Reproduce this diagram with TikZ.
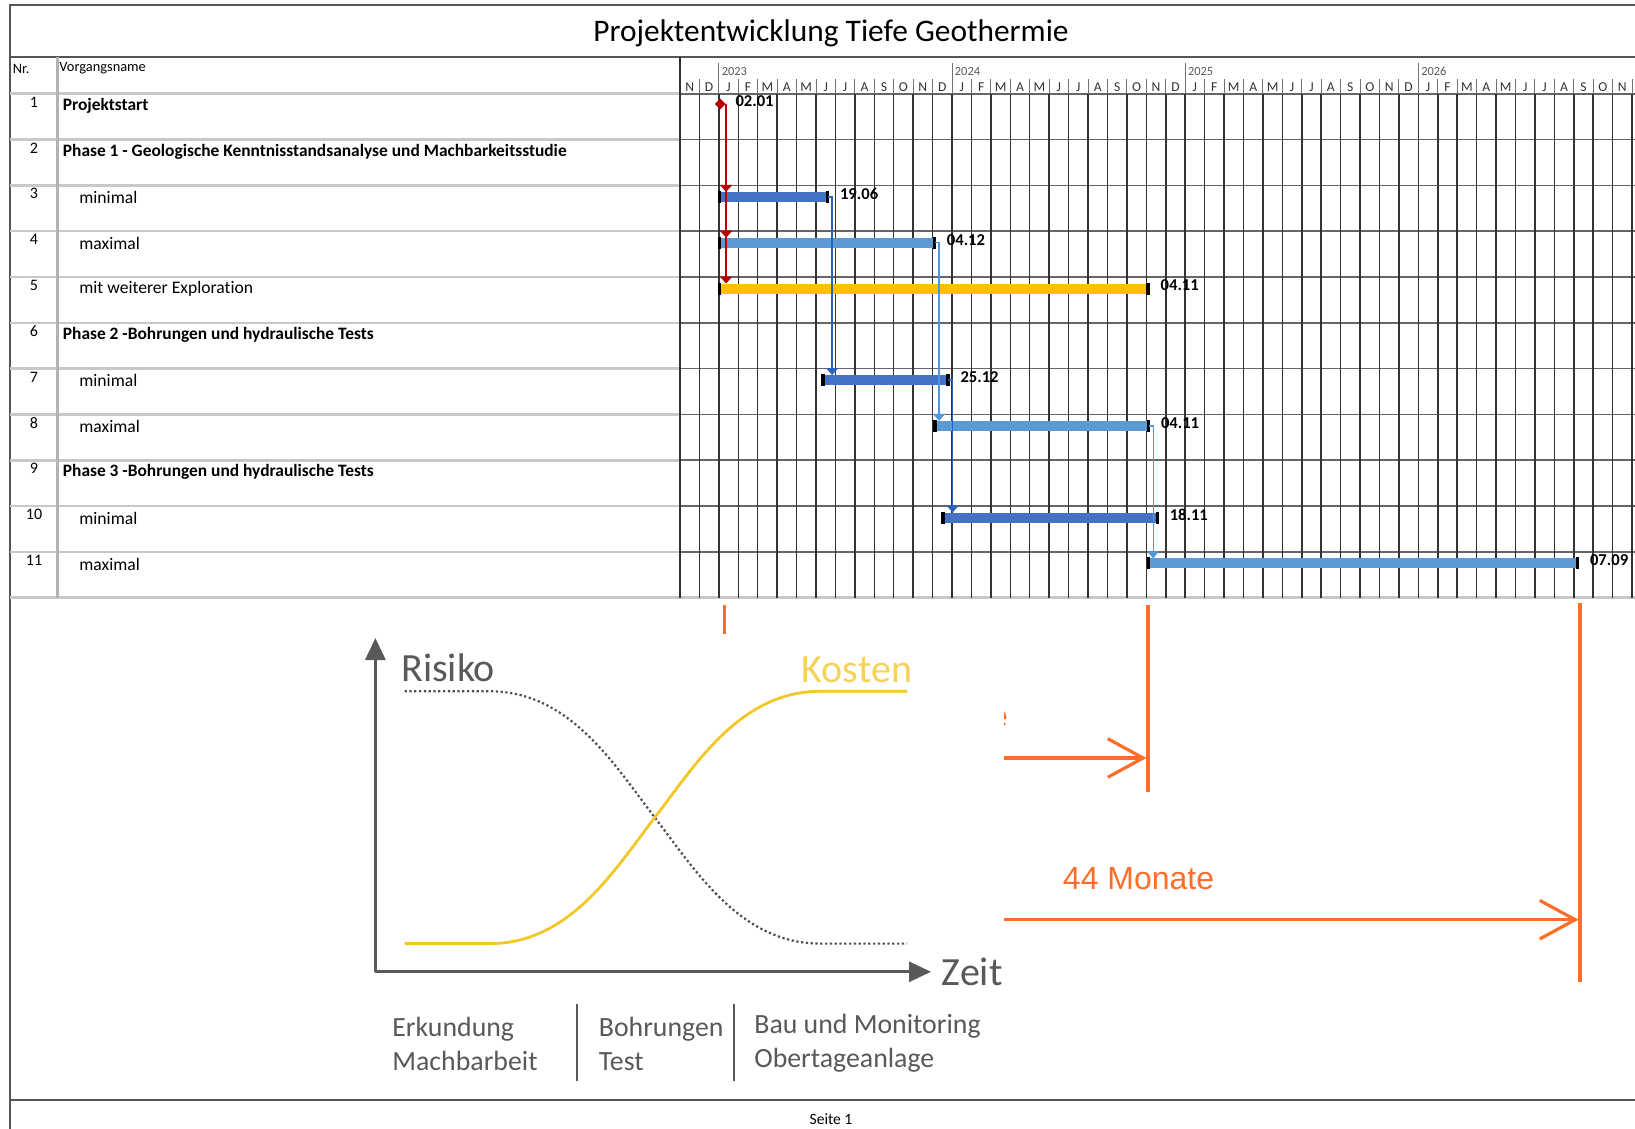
\documentclass[tikz,border=0pt]{standalone}
\usepackage{fontspec}
\setmainfont{Carlito}[Ligatures=NoCommon]
\newfontfamily\arialfont{Liberation Sans}
\usetikzlibrary{positioning,calc,arrows.meta,shapes.geometric}

\definecolor{frameGray}{RGB}{85,85,85}
\definecolor{rowGray}{RGB}{200,200,200}
\definecolor{barDark}{RGB}{68,114,196}
\definecolor{barLight}{RGB}{91,155,213}
\definecolor{barGold}{RGB}{255,192,0}
\definecolor{linkDark}{RGB}{40,100,190}
\definecolor{linkLight}{RGB}{80,150,220}
\definecolor{msRed}{RGB}{185,0,0}
\definecolor{monOrange}{RGB}{255,110,40}
\definecolor{chartGray}{RGB}{89,89,89}
\definecolor{costYellow}{RGB}{242,200,40}
\definecolor{costText}{RGB}{247,210,90}

\tikzset{
    pageframe/.style={draw=frameGray, line width=1.1pt},
    rowline/.style={draw=rowGray, line width=1.3pt},
    gridline/.style={draw=black!80, line width=0.75pt},
    monthsep/.style={draw=black!55, line width=0.5pt},
    nrtext/.style={inner sep=0pt, font=\fontsize{8}{9}\selectfont},
    nametext/.style={anchor=west, inner sep=0pt, font=\fontsize{8.8}{10}\selectfont},
    phasetext/.style={nametext, font=\fontsize{8.7}{10}\selectfont\bfseries},
    headtext/.style={anchor=west, inner sep=0pt, font=\fontsize{7.2}{8}\selectfont},
    monthtext/.style={inner sep=0pt, text=black!80, font=\fontsize{6.8}{7}\selectfont},
    yeartext/.style={anchor=west, inner sep=0pt, text=black!65, font=\fontsize{6.2}{7}\selectfont},
    ganttbar/.style={line width=5pt},
    datelabel/.style={inner sep=0pt, anchor=west, font=\fontsize{8.3}{9}\selectfont\bfseries},
    milestone/.style={diamond, fill=msRed, inner sep=0pt, minimum size=5.5pt},
    redlink/.style={draw=msRed, line width=0.8pt, -{Triangle[length=3.5pt,width=6pt]}, shorten >=2.5pt},
    darklink/.style={draw=linkDark, line width=0.8pt, -{Triangle[length=3.5pt,width=6pt]}, shorten >=2.5pt},
    lightlink/.style={draw=linkLight, line width=0.6pt, -{Triangle[length=3.5pt,width=6pt]}, shorten >=2.5pt},
    orangeline/.style={draw=monOrange, line width=1.6pt},
    orangearrow/.style={orangeline, -{Straight Barb[length=17.7pt,width=19.3pt]}},
    axis/.style={draw=chartGray, line width=1.5pt, -{Triangle[length=11pt,width=10pt]}},
    charttext/.style={inner sep=0pt, text=chartGray, font=\fontsize{20}{24}\selectfont},
    phaselabel/.style={anchor=base west, inner sep=0pt, text=chartGray, font=\fontsize{13.9}{16}\selectfont},
    monate/.style={inner sep=0pt, text=monOrange, font=\arialfont\fontsize{16}{19}\selectfont},
}
\tikzset{
    barEnd/.pic={
        \fill[black] (-1.8,-6) rectangle (1.8,6);
    }
}

\begin{document}
\begin{tikzpicture}[x=0.5pt, y=-0.5pt]
    \useasboundingbox (0,0) rectangle (1635,1129);
    \fill[white] (0,0) rectangle (1635,1129);

    % page frame and title
    \draw[pageframe] (10,1129) -- (10,5) -- (1635,5);
    \draw[pageframe] (10,57.3) -- (1635,57.3);
    \node[font=\fontsize{15.7}{18}\selectfont] (title) at (831,33) {Projektentwicklung Tiefe Geothermie};

    % table grid
    \foreach \i in {0,...,11}
        \draw[rowline] (10,{93.8+45.8*\i}) -- (680,{93.8+45.8*\i});
    \foreach \i in {0,...,10}
        \draw[gridline, draw=black!60] (680,{93.8+45.8*\i}) -- (1635,{93.8+45.8*\i});
    \draw[rowline] (680,597.5) -- (1635,597.5);
    \draw[rowline, draw=black!30] (57.3,57.3) -- (57.3,597.5);
    \draw[gridline] (680,57.3) -- (680,597.5);
    \foreach \k in {1,...,49}
        \draw[gridline] ({680+19.43*\k},93.8) -- ({680+19.43*\k},597.5);

    % header
    \node[headtext] (hnr) at (12.5,68.5) {Nr.};
    \node[headtext] (hname) at (59,68.5) {Vorgangsname};
    \foreach \m [count=\k from 0] in {N,D,J,F,M,A,M,J,J,A,S,O,N,D,J,F,M,A,M,J,J,A,S,O,N,D,J,F,M,A,M,J,J,A,S,O,N,D,J,F,M,A,M,J,J,A,S,O,N}
        \node[monthtext] (m\k) at ({680+19.43*(\k+0.5)},87) {\m};
    \foreach \k in {1,...,49}
        \draw[monthsep] ({680+19.43*\k},79) -- ({680+19.43*\k},93.8);
    \foreach \k/\yr in {2/2023,14/2024,26/2025,38/2026}{
        \draw[monthsep] ({680+19.43*\k},63) -- ({680+19.43*\k},79);
        \node[yeartext] (y\yr) at ({682.5+19.43*\k},71.5) {\yr};
    }

    % task names
    \foreach \i in {1,...,11}
        \node[nrtext] (nr\i) at (34,{102.1+45.8*(\i-1)}) {\i};
    \foreach \i/\txt in {1/Projektstart, 2/Phase 1 - Geologische Kenntnisstandsanalyse und Machbarkeitsstudie, 6/Phase 2 -Bohrungen und hydraulische Tests, 9/Phase 3 -Bohrungen und hydraulische Tests}
        \node[phasetext] (name\i) at (62.5,{105.6+45.8*(\i-1)}) {\txt};
    \foreach \i/\txt in {3/minimal, 4/maximal, 5/mit weiterer Exploration, 7/minimal, 8/maximal, 10/minimal, 11/maximal}
        \node[nametext] (name\i) at (79,{106+45.8*(\i-1)}) {\txt};

    % bars
    \foreach \n/\s/\e/\col/\lab in {3/2.03/7.60/barDark/19.06, 4/2.03/13.10/barLight/04.12, 5/2.03/24.10/barGold/04.11, 7/7.35/13.80/barDark/25.12, 8/13.12/24.12/barLight/04.11, 10/13.55/24.57/barDark/18.11, 11/24.12/46.20/barLight/07.09}{
        \pgfmathsetmacro\by{93.8+45.8*(\n-1)+11.5}
        \coordinate (b\n-s) at ({680+19.43*\s},\by);
        \coordinate (b\n-e) at ({680+19.43*\e},\by);
        \draw[ganttbar, draw=\col] (b\n-s) -- (b\n-e);
        \pic at (b\n-s) {barEnd};
        \pic at (b\n-e) {barEnd};
        \node[datelabel, right=6pt of b\n-e, yshift=1.5pt] (l\n) {\lab};
    }
    \node[milestone] (ms) at (720.2,104) {};
    \node[datelabel, right=4.5pt of ms, yshift=1.5pt] (l1) {02.01};

    % links
    \foreach \n in {3,4,5}
        \draw[redlink] (ms.east) -- (ms.east |- b\n-s);
    \foreach \a/\b/\sty in {3/7/darklink, 7/10/darklink, 4/8/lightlink, 8/11/lightlink}{
        \coordinate (k\a) at ($(b\a-e)+(4.5,0)$);
        \draw[\sty] (b\a-e) -- (k\a) -- (k\a |- b\b-s);
    }

    % duration marks
    \draw[orangeline] (724.7,605) -- (724.7,634);
    \draw[orangeline] (1148,605) -- (1148,792);
    \draw[orangeline] (1580,603) -- (1580,982);
    \draw[orangearrow] (1004,758) -- (1146.5,758);
    \draw[orangearrow] (1004,919.7) -- (1578.5,919.7);
    \node[monate] (mon) at (1138.6,879) {44 Monate};
    \begin{scope}
        \clip (1004,700) rectangle (1030,740);
        \node[monate] (frag) at (999,719.5) {e};
    \end{scope}

    % risk / cost chart
    \coordinate (o) at (375.4,971.8);
    \draw[axis] (o) -- (375.4,638);
    \draw[axis] (o) -- (931,971.8);
    \draw[chartGray!85!black, line width=1.1pt, dash pattern=on 1.1pt off 1.3pt]
        (404.6,691.3) -- (490,691.3) .. controls (570,691.3) and (614.8,765.5) .. (654.8,817.5)
        .. controls (694.8,869.5) and (740,943.6) .. (820,943.6) -- (907,943.6);
    \draw[costYellow, line width=1.4pt]
        (404.6,943.6) -- (490,943.6) .. controls (570,943.6) and (614.8,869.5) .. (654.8,817.5)
        .. controls (694.8,765.5) and (740,691.3) .. (820,691.3) -- (907,691.3);
    \node[charttext, anchor=west] (risk) at (401,667.3) {Risiko};
    \node[charttext, anchor=east, text=costText] (cost) at (912.4,669.4) {Kosten};
    \node[charttext, anchor=west] (zeit) at (941.5,971.8) {Zeit};

    % phases below the chart
    \node[phaselabel] (erk1) at (392,1036) {Erkundung};
    \node[phaselabel] (erk2) at (392,1070.5) {Machbarbeit};
    \node[phaselabel] (bohr1) at (598.5,1036) {Bohrungen};
    \node[phaselabel] (bohr2) at (598.5,1070.5) {Test};
    \node[phaselabel] (bau1) at (754,1033) {Bau und Monitoring};
    \node[phaselabel] (bau2) at (754,1067.3) {Obertageanlage};
    \draw[chartGray, line width=1pt] (576.6,1004) -- (576.6,1081);
    \draw[chartGray, line width=1pt] (734,1004) -- (734,1081);

    % footer
    \draw[pageframe] (10,1100) -- (1635,1100);
    \node[font=\fontsize{7.8}{9}\selectfont] (page) at (831,1119) {Seite 1};
\end{tikzpicture}
\end{document}
